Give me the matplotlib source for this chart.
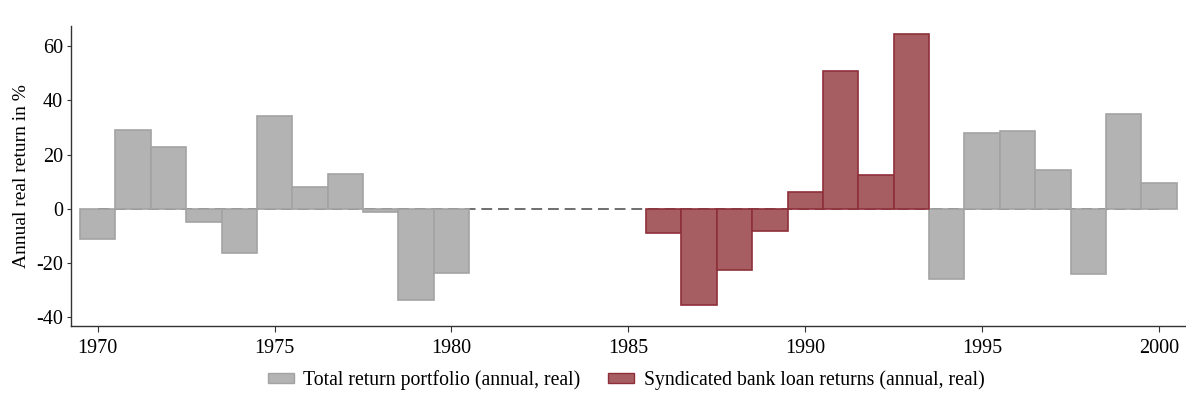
import matplotlib
matplotlib.use('Agg')
import matplotlib.pyplot as plt
from matplotlib.patches import Patch

plt.rcParams['font.family'] = ['Liberation Serif', 'DejaVu Serif']
plt.rcParams['axes.unicode_minus'] = False

# Total return portfolio (annual, real), in %
yrs_a = [1970, 1971, 1972, 1973, 1974, 1975, 1976, 1977, 1978, 1979, 1980]
ret_a = [-11.2, 29.0, 22.9, -4.7, -16.3, 34.4, 8.1, 12.9, -1.2, -33.6, -23.7]
yrs_b = [1994, 1995, 1996, 1997, 1998, 1999, 2000]
ret_b = [-25.9, 27.9, 28.7, 14.3, -24.2, 34.9, 9.5]

# Syndicated bank loan returns (annual, real), in %
yrs_loan = [1986, 1987, 1988, 1989, 1990, 1991, 1992, 1993]
ret_loan = [-9.0, -35.5, -22.6, -8.1, 6.2, 51.0, 12.3, 64.4]

lab_tot = 'Total return portfolio (annual, real)'
lab_loan = 'Syndicated bank loan returns (annual, real)'

gray_fc, gray_ec = '#b3b3b3', '#a3a3a3'
red_fc, red_ec = '#a65e62', '#8e2f38'

fig = plt.figure(figsize=(11.86, 4.07), dpi=100)
ax = fig.add_axes([0.06, 0.199, 0.939, 0.737])

ax.plot([1970, 2000], [0, 0], color='#555555', lw=1.2, ls=(0, (6.5, 3.5)), zorder=1)

ax.bar(yrs_a, ret_a, width=1.0, color=gray_fc, edgecolor=gray_ec, lw=1.2, zorder=2)
ax.bar(yrs_b, ret_b, width=1.0, color=gray_fc, edgecolor=gray_ec, lw=1.2, zorder=2)
ax.bar(yrs_loan, ret_loan, width=1.0, color=red_fc, edgecolor=red_ec, lw=1.2, zorder=2)

ax.set_xlim(1969.25, 2000.73)
ax.set_ylim(-43.3, 67.5)
ax.set_xticks([1970, 1975, 1980, 1985, 1990, 1995, 2000])
ax.set_yticks([-40, -20, 0, 20, 40, 60])
ax.tick_params(labelsize=14.5, width=0.8, color='#333333')
ax.tick_params(axis='x', length=4, pad=5)
ax.tick_params(axis='y', length=3, pad=3)
ax.set_ylabel('Annual real return in %', fontsize=14, labelpad=4)

for s in ['top', 'right']:
    ax.spines[s].set_visible(False)
for s in ['left', 'bottom']:
    ax.spines[s].set_linewidth(1.0)
    ax.spines[s].set_color('#333333')

handles = [Patch(facecolor=gray_fc, edgecolor=gray_ec, label=lab_tot),
           Patch(facecolor=red_fc, edgecolor=red_ec, label=lab_loan)]
fig.legend(handles=handles, loc='center', bbox_to_anchor=(0.528, 0.066), ncol=2,
           frameon=False, fontsize=14.2, handlelength=1.3, handleheight=0.45,
           handletextpad=0.5, columnspacing=1.4)

fig.savefig('out.png', dpi=100)
